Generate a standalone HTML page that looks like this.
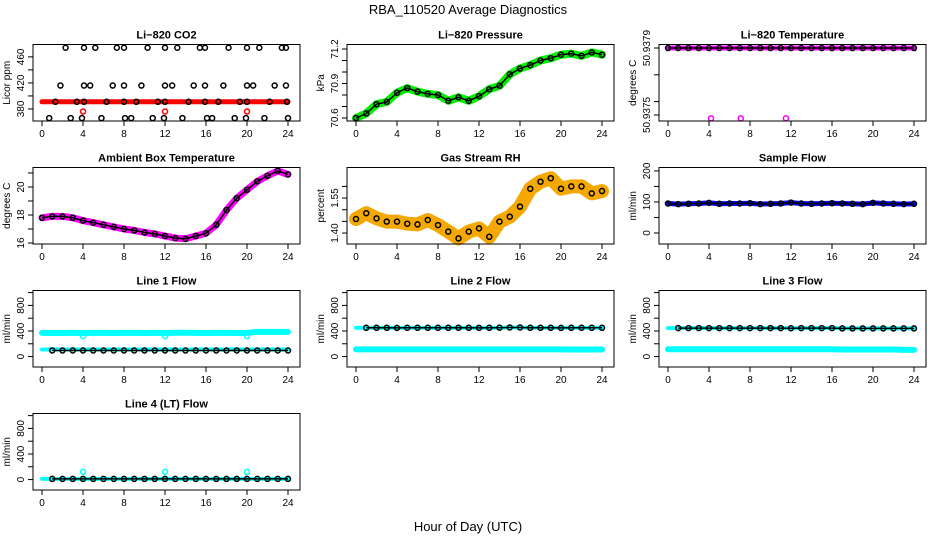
<!DOCTYPE html>
<html><head><meta charset="utf-8"><style>
html,body{margin:0;padding:0;background:#fff;}
svg{display:block;font-family:"Liberation Sans",Arial,sans-serif;}
</style></head><body>
<svg id="c" width="936" height="540" viewBox="0 0 936 540">
<text x="468" y="14" text-anchor="middle" font-size="13">RBA_110520  Average Diagnostics</text>
<text x="468" y="531" text-anchor="middle" font-size="13">Hour of Day (UTC)</text>
</svg>
<script>
const HOURS=[0,1,2,3,4,5,6,7,8,9,10,11,12,13,14,15,16,17,18,19,20,21,22,23,24];
const XTICKS=[0,4,8,12,16,20,24];
// CO2
const co2HighHours=[2.3,4.1,5.2,7.3,8.0,10.3,12.0,13.2,15.4,15.9,18.2,20.0,21.2,23.4,23.8];
const co2MidHours=[1.8,4.1,4.7,6.9,8.0,9.7,12.0,12.7,14.8,15.9,17.7,20.0,20.6,22.7,23.8];
const co2BaseHours=[1.3,3.4,4.1,6.3,8.0,9.2,11.3,12.0,14.3,15.9,17.2,19.3,20.0,22.2,23.9];
const co2LowHours=[0.7,2.8,3.9,5.8,8.1,8.7,10.8,11.9,13.7,16.1,16.6,18.8,19.9,21.7,24.0];
const co2Levels=[474,416,391,366];
const co2Red=[391,391,391,391,391,391,391,391,391,391,391,391,391,391,391,391,391,391,391,391,391,391,391,391,391];
const co2RedOutHours=[4,12,20];
const co2RedOutVals=[376,376,376];
// Pressure
const pressure=[70.6,70.64,70.72,70.74,70.82,70.86,70.83,70.81,70.80,70.75,70.78,70.75,70.79,70.85,70.88,70.98,71.03,71.06,71.1,71.12,71.15,71.16,71.14,71.17,71.15];
// Li-820 temperature
const liTemp=[50.9379,50.9379,50.9379,50.9379,50.9379,50.9379,50.9379,50.9379,50.9379,50.9379,50.9379,50.9379,50.9379,50.9379,50.9379,50.9379,50.9379,50.9379,50.9379,50.9379,50.9379,50.9379,50.9379,50.9379,50.9379];
const liTempOutHours=[4.2,7.1,11.5];
const liTempOutVals=[50.93748,50.93748,50.93748];
// Ambient
const ambient=[17.8,17.9,17.9,17.8,17.6,17.45,17.3,17.15,17.0,16.9,16.75,16.65,16.5,16.35,16.3,16.5,16.7,17.3,18.35,19.2,19.8,20.4,20.8,21.15,20.9];
// RH
const rh=[1.46,1.485,1.463,1.449,1.449,1.44,1.437,1.456,1.434,1.406,1.377,1.406,1.42,1.384,1.449,1.47,1.513,1.59,1.62,1.635,1.59,1.6,1.6,1.57,1.58];
// Sample flow
const sampleFlow=[95,93,94,95,97,94,95,95,96,93,94,95,98,95,94,95,96,95,94,93,97,95,94,93,94];
// Line flows
const line1Cyan=[370,368,369,370,368,370,370,369,370,370,369,370,368,371,372,370,369,370,370,369,370,385,386,386,386];
const line1Black=[95,95,95,95,95,95,95,95,95,95,95,95,95,95,95,95,95,95,95,95,95,95,95,95,95];
const line1Low=[110,110,110,110,110,110,110,110,110,110,110,110,110,110,110,110,110,110,110,110,110,110,110,110,110];
const line1OutHours=[4,12,20];
const line1OutVals=[320,320,320];
const line2Black=[450,450,450,450,448,450,450,450,450,450,450,450,449,450,452,455,455,450,450,450,448,450,450,450,450];
const line2Cyan=[112,112,112,112,112,112,112,112,112,112,112,112,112,112,112,112,112,112,112,112,112,110,110,110,110];
const line3Black=[445,445,445,445,445,445,445,445,445,445,445,445,443,445,445,445,445,440,440,440,440,440,440,440,440];
const line3Cyan=[115,115,115,115,115,115,115,115,115,115,115,115,115,115,115,115,115,110,110,110,110,110,110,105,105];
const line4Black=[10,10,10,10,10,10,10,10,10,10,10,10,10,10,10,10,10,10,10,10,10,10,10,10,10];
const line4OutHours=[4,12,20];
const line4OutVals=[120,120,120];

const NS='http://www.w3.org/2000/svg';
const svg=document.getElementById('c');
function mk(tag,attrs,parent){const e=document.createElementNS(NS,tag);for(const k in attrs)e.setAttribute(k,attrs[k]);(parent||svg).appendChild(e);return e;}
const COLS=[33,347,659], ROWS=[44.5,167.5,290.5,413.5], W=267, H=76.5;

function panel(id,col,row,cfg){
  const L=COLS[col],T=ROWS[row];
  const g=mk('g',{});
  
  
  const xs=h=>L+9+h/24*246;
  const ys=v=>T+(cfg.ymax-v)/(cfg.ymax-cfg.ymin)*H;
  cfg.layers.forEach(ly=>{
    if(ly.type==='band'){
      const pts=ly.x.map((h,i)=>xs(h).toFixed(1)+','+ys(ly.y[i]).toFixed(1)).join(' ');
      const p=mk('polyline',{points:pts,fill:'none',stroke:ly.color,'stroke-width':ly.w,'stroke-linejoin':'round','stroke-linecap':'round'},g);
      
      
    } else {
      if(ly.chain){
        const pts=ly.x.map((h,i)=>xs(h).toFixed(1)+','+ys(ly.y[i]).toFixed(1)).join(' ');
        const p=mk('polyline',{points:pts,fill:'none',stroke:ly.color,'stroke-width':1.5},g);
        
        
      }
      ly.x.forEach((h,i)=>{
        const c=mk('circle',{cx:xs(h),cy:ys(ly.y[i]),r:ly.r||2.5,fill:'none',stroke:ly.color,'stroke-width':1.5},g);
        
        
      });
    }
  });
  const box=mk('rect',{x:L,y:T,width:W,height:H,fill:'none',stroke:'#000','stroke-width':1},g);
  
  
  const t=mk('text',{x:L+W/2,y:T-6,'text-anchor':'middle','font-size':11,'font-weight':'bold'},g);
  t.textContent=cfg.title;
  
  
  XTICKS.forEach(h=>{
    mk('line',{x1:xs(h),x2:xs(h),y1:T+H,y2:T+H+5,stroke:'#000'},g);
    const lb=mk('text',{x:xs(h),y:T+H+16,'text-anchor':'middle','font-size':10},g);
    lb.textContent=h;
    
    
  });
  cfg.yticks.forEach(v=>{
    mk('line',{x1:L-5,x2:L,y1:ys(v),y2:ys(v),stroke:'#000'},g);
  });
  cfg.ylabels.forEach((v,i)=>{
    const y=ys(v);
    const lb=mk('text',{x:L-9,y:y,'text-anchor':'middle','font-size':10,transform:'rotate(-90 '+(L-9)+' '+y+')'},g);
    lb.textContent=cfg.ylabelText?cfg.ylabelText[i]:v;
    
    
  });
  const yt=mk('text',{x:L-23,y:T+H/2,'text-anchor':'middle','font-size':10,transform:'rotate(-90 '+(L-23)+' '+(T+H/2)+')'},g);
  yt.textContent=cfg.ytitle;
  
  
}
const lvl=(hrs,v)=>hrs.map(()=>v);
panel('co2',0,0,{title:'Li\u2212820 CO2',ytitle:'Licor ppm',ymin:361.5,ymax:479,yticks:[380,400,420,440,460],ylabels:[380,420,460],
  layers:[{type:'band',name:'red-band',x:HOURS,y:co2Red,color:'#ff0000',w:5},
  {type:'pts',name:'red-outlier',x:co2RedOutHours,y:co2RedOutVals,color:'#ff0000'},
  {type:'pts',name:'high',x:co2HighHours,y:lvl(co2HighHours,co2Levels[0]),color:'#000'},
  {type:'pts',name:'mid',x:co2MidHours,y:lvl(co2MidHours,co2Levels[1]),color:'#000'},
  {type:'pts',name:'base',x:co2BaseHours,y:lvl(co2BaseHours,co2Levels[2]),color:'#000'},
  {type:'pts',name:'low',x:co2LowHours,y:lvl(co2LowHours,co2Levels[3]),color:'#000'}]});
panel('pressure',1,0,{title:'Li\u2212820 Pressure',ytitle:'kPa',ymin:70.574,ymax:71.239,yticks:[70.6,70.7,70.8,70.9,71.0,71.1,71.2],ylabels:[70.6,70.9,71.2],ylabelText:['70.6','70.9','71.2'],
  layers:[{type:'band',name:'green-band',x:HOURS,y:pressure,color:'#00ee00',w:8},
  {type:'pts',name:'black',x:HOURS,y:pressure,color:'#000',chain:true}]});
panel('li-temp',2,0,{title:'Li\u2212820 Temperature',ytitle:'degrees C',ymin:50.937464,ymax:50.937921,yticks:[50.9375,50.93758,50.93774,50.9379],ylabels:[50.9375,50.9379],ylabelText:['50.9375','50.9379'],
  layers:[{type:'band',name:'magenta-band',x:HOURS,y:liTemp,color:'#ff00ff',w:5},
  {type:'pts',name:'magenta-outlier',x:liTempOutHours,y:liTempOutVals,color:'#ff00ff'},
  {type:'pts',name:'black',x:HOURS,y:liTemp,color:'#000',chain:true}]});
panel('ambient',0,1,{title:'Ambient Box Temperature',ytitle:'degrees C',ymin:15.93,ymax:21.39,yticks:[16,17,18,19,20,21],ylabels:[16,18,20],
  layers:[{type:'band',name:'magenta-band',x:HOURS,y:ambient,color:'#ff00ff',w:7},
  {type:'pts',name:'black',x:HOURS,y:ambient,color:'#000',chain:true}]});
panel('rh',1,1,{title:'Gas Stream RH',ytitle:'percent',ymin:1.353,ymax:1.681,yticks:[1.40,1.45,1.50,1.55,1.60],ylabels:[1.40,1.55],ylabelText:['1.40','1.55'],
  layers:[{type:'band',name:'orange-band',x:HOURS,y:rh,color:'#f4a800',w:14},
  {type:'pts',name:'black',x:HOURS,y:rh,color:'#000'}]});
panel('sample-flow',2,1,{title:'Sample Flow',ytitle:'ml/min',ymin:-35.5,ymax:211,yticks:[0,50,100,150,200],ylabels:[0,100,200],
  layers:[{type:'band',name:'blue-band',x:HOURS,y:sampleFlow,color:'#0000ff',w:5},
  {type:'pts',name:'black',x:HOURS,y:sampleFlow,color:'#000',chain:true}]});
const FT=[0,200,400,600,800,1000], FL=[0,400,800];
panel('line1',0,2,{title:'Line 1 Flow',ytitle:'ml/min',ymin:-163,ymax:1033,yticks:FT,ylabels:FL,
  layers:[{type:'band',name:'cyan-band',x:HOURS,y:line1Cyan,color:'#00ffff',w:6},
  {type:'band',name:'cyan-low',x:HOURS,y:line1Low,color:'#00ffff',w:4},
  {type:'pts',name:'cyan-outlier',x:line1OutHours,y:line1OutVals,color:'#00ffff'},
  {type:'pts',name:'black',x:HOURS.slice(1),y:line1Black.slice(1),color:'#000',chain:true}]});
panel('line2',1,2,{title:'Line 2 Flow',ytitle:'ml/min',ymin:-163,ymax:1033,yticks:FT,ylabels:FL,
  layers:[{type:'band',name:'cyan-band',x:HOURS,y:line2Cyan,color:'#00ffff',w:6},
  {type:'band',name:'cyan-top',x:HOURS,y:line2Black,color:'#00ffff',w:4},
  {type:'pts',name:'black',x:HOURS.slice(1),y:line2Black.slice(1),color:'#000',chain:true}]});
panel('line3',2,2,{title:'Line 3 Flow',ytitle:'ml/min',ymin:-163,ymax:1033,yticks:FT,ylabels:FL,
  layers:[{type:'band',name:'cyan-band',x:HOURS,y:line3Cyan,color:'#00ffff',w:6},
  {type:'band',name:'cyan-top',x:HOURS,y:line3Black,color:'#00ffff',w:4},
  {type:'pts',name:'black',x:HOURS.slice(1),y:line3Black.slice(1),color:'#000',chain:true}]});
panel('line4',0,3,{title:'Line 4 (LT) Flow',ytitle:'ml/min',ymin:-163,ymax:1033,yticks:FT,ylabels:FL,
  layers:[{type:'band',name:'cyan-band',x:HOURS,y:line4Black,color:'#00ffff',w:4},
  {type:'pts',name:'cyan-outlier',x:line4OutHours,y:line4OutVals,color:'#00ffff'},
  {type:'pts',name:'black',x:HOURS.slice(1),y:line4Black.slice(1),color:'#000',chain:true}]});
</script>
</body></html>
